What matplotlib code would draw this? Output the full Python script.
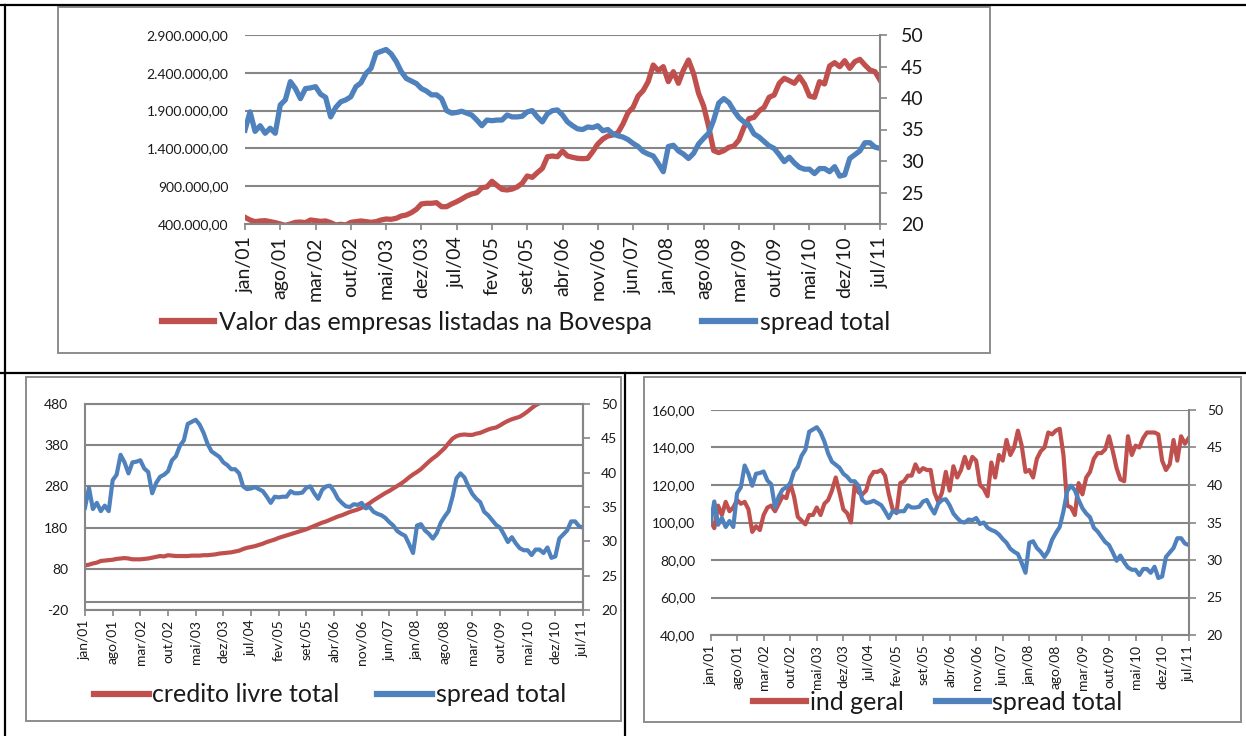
import matplotlib
matplotlib.use("Agg")
import matplotlib.pyplot as plt
from matplotlib.lines import Line2D
from matplotlib.patches import Rectangle
from matplotlib.ticker import FuncFormatter, FixedLocator
import numpy as np

plt.rcParams['font.family'] = ['Lato', 'DejaVu Sans']
plt.rcParams['axes.unicode_minus'] = False

# ---------------- data ----------------
tick_labels = ["jan/01", "ago/01", "mar/02", "out/02", "mai/03", "dez/03", "jul/04",
               "fev/05", "set/05", "abr/06", "nov/06", "jun/07", "jan/08", "ago/08",
               "mar/09", "out/09", "mai/10", "dez/10", "jul/11"]

spread_total = [34.9, 37.8, 34.7, 35.6, 34.4, 35.2, 34.4, 38.9, 39.7, 42.6,
                41.5, 39.9, 41.5, 41.6, 41.8, 40.6, 40.1, 37.0, 38.5, 39.4,
                39.7, 40.2, 41.8, 42.4, 43.9, 44.7, 47.1, 47.4, 47.7, 47.0,
                45.8, 44.2, 43.1, 42.7, 42.3, 41.5, 41.1, 40.5, 40.5, 39.9,
                38.0, 37.6, 37.7, 37.9, 37.6, 37.3, 36.5, 35.6, 36.5, 36.4,
                36.5, 36.5, 37.3, 37.0, 37.0, 37.1, 37.8, 38.0, 37.0, 36.2,
                37.5, 38.0, 38.1, 37.3, 36.2, 35.6, 35.1, 35.0, 35.4, 35.3,
                35.6, 34.8, 35.0, 34.3, 34.0, 33.8, 33.4, 32.8, 32.3, 31.5,
                31.1, 30.8, 29.6, 28.3, 32.3, 32.5, 31.6, 31.1, 30.4, 31.2,
                32.7, 33.6, 34.4, 36.5, 39.2, 39.9, 39.3, 38.0, 36.9, 36.2,
                35.7, 34.3, 33.8, 33.1, 32.4, 32.0, 31.0, 29.9, 30.6, 29.7,
                29.0, 28.7, 28.7, 28.0, 28.8, 28.8, 28.3, 29.1, 27.6, 27.8,
                30.4, 31.0, 31.6, 32.9, 32.9, 32.2, 32.0]

valor_bovespa = [488, 453, 431, 440, 444, 431, 418, 400, 382, 400,
                 422, 426, 418, 453, 444, 435, 440, 418, 387, 396,
                 387, 422, 431, 440, 431, 422, 431, 453, 466, 462,
                 475, 506, 519, 550, 594, 665, 674, 674, 682, 629,
                 629, 665, 695, 731, 770, 797, 814, 880, 890, 965,
                 910, 858, 850, 862, 890, 938, 1035, 1017, 1079, 1136,
                 1290, 1299, 1290, 1365, 1299, 1282, 1268, 1264, 1268, 1357,
                 1458, 1524, 1564, 1577, 1608, 1723, 1873, 1943, 2093, 2164,
                 2283, 2503, 2428, 2481, 2283, 2415, 2261, 2437, 2569, 2393,
                 2128, 1961, 1687, 1370, 1344, 1370, 1414, 1432, 1511, 1678,
                 1793, 1811, 1895, 1943, 2076, 2106, 2261, 2327, 2296, 2261,
                 2349, 2252, 2093, 2076, 2283, 2252, 2490, 2534, 2481, 2560,
                 2459, 2547, 2578, 2503, 2437, 2415, 2305]
valor_bovespa = [v * 1000 for v in valor_bovespa]

credito_livre = [88, 90, 93, 95, 99, 100, 101, 102, 104, 105,
                 106, 105, 103, 103, 103, 104, 105, 107, 109, 111,
                 110, 113, 112, 111, 111, 111, 111, 112, 112, 112,
                 113, 113, 114, 115, 117, 118, 119, 120, 122, 124,
                 128, 131, 133, 135, 138, 141, 145, 148, 151, 155,
                 158, 161, 164, 167, 170, 173, 176, 180, 184, 188,
                 192, 195, 199, 203, 207, 210, 214, 218, 221, 224,
                 228, 233, 239, 246, 252, 258, 264, 269, 275, 281,
                 287, 294, 302, 309, 315, 322, 331, 340, 348, 355,
                 364, 373, 385, 396, 402, 405, 406, 405, 405, 408,
                 410, 414, 418, 421, 423, 428, 434, 439, 443, 446,
                 449, 455, 462, 470, 477, 482, 489, 495, 500, 505,
                 510, 516, 521, 526, 531, 536, 541]

ind_geral = [101, 97, 109, 104, 111, 106, 108, 112, 110, 111,
             107, 95, 98, 96, 104, 108, 109, 106, 110, 114,
             113, 121, 114, 103, 101, 99, 104, 104, 108, 104,
             110, 112, 117, 124, 116, 107, 105, 100, 120, 116,
             115, 117, 124, 127, 127, 128, 125, 115, 107, 105,
             121, 122, 125, 125, 131, 127, 129, 128, 128, 116,
             111, 116, 127, 117, 130, 124, 128, 135, 129, 135,
             133, 120, 118, 114, 132, 124, 136, 133, 144, 136,
             140, 149, 141, 127, 128, 124, 134, 138, 140, 148,
             147, 149, 150, 136, 109, 108, 104, 121, 115, 124,
             127, 134, 137, 137, 139, 146, 138, 129, 123, 122,
             146, 136, 141, 140, 145, 148, 148, 148, 147, 133,
             128, 131, 144, 133, 146, 142, 145]

# ---------------- style ----------------
RED = '#C0504D'
BLUE = '#4F81BD'
GRID = '#868686'
BOXC = '#8C8C8C'
TXT = '#1a1a1a'
W, H = 1246, 736

fig = plt.figure(figsize=(W / 100, H / 100), dpi=100)


def rect(x0, y0, x1, y1):
    return [x0 / W, 1 - y1 / H, (x1 - x0) / W, (y1 - y0) / H]


def fx(x):
    return x / W


def fy(y):
    return 1 - y / H


# outer table borders (black)
for xs, ys in [((0, W), (5, 5)), ((5, 5), (5, H)), ((0, W), (373, 373)), ((625, 625), (373, H))]:
    fig.add_artist(Line2D([fx(xs[0]), fx(xs[1])], [fy(ys[0]), fy(ys[1])],
                          transform=fig.transFigure, color='black', lw=1.6))

# gray chart boxes
for (x0, y0, x1, y1) in [(58, 7, 990, 353), (26, 377, 621, 721), (644, 377, 1241, 722)]:
    fig.add_artist(Rectangle((fx(x0), fy(y1)), fx(x1) - fx(x0), fy(y0) - fy(y1),
                             transform=fig.transFigure, fill=False, edgecolor=BOXC, lw=1.4))

x = np.arange(len(spread_total))
tick_pos = list(range(0, len(spread_total), 7))


def fmt_br(decimals):
    def f(v, pos):
        s = f"{v:,.{decimals}f}"
        return s.replace(',', 'X').replace('.', ',').replace('X', '.')
    return FuncFormatter(f)


def style_common(ax, axr, xfs, left_fs, right_fs, lpad, rpad, xpad):
    ax.set_xlim(0, len(spread_total) - 1)
    ax.xaxis.set_major_locator(FixedLocator(tick_pos))
    ax.set_xticklabels(tick_labels, rotation=90, fontsize=xfs, color=TXT)
    ax.tick_params(axis='x', direction='out', length=4, width=1.2, color=GRID, pad=xpad)
    ax.tick_params(axis='y', length=0, labelsize=left_fs, labelcolor=TXT, pad=lpad)
    ax.yaxis.grid(True, color=GRID, lw=1.5)
    ax.set_axisbelow(True)
    for s in ['top', 'left', 'right']:
        ax.spines[s].set_visible(False)
    ax.spines['bottom'].set_color(GRID)
    ax.spines['bottom'].set_linewidth(1.5)
    axr.set_ylim(20, 50)
    axr.set_yticks([20, 25, 30, 35, 40, 45, 50])
    axr.tick_params(axis='y', direction='out', length=5, width=1.2, color=GRID,
                    labelsize=right_fs, labelcolor=TXT, pad=rpad)
    for s in ['top', 'left', 'bottom']:
        axr.spines[s].set_visible(False)
    axr.spines['right'].set_color(GRID)
    axr.spines['right'].set_linewidth(1.5)


# ---------------- top chart ----------------
ax1 = fig.add_axes(rect(245, 35, 880, 224))
ax1r = ax1.twinx()
ax1.plot(x, valor_bovespa, color=RED, lw=3.8, solid_joinstyle='round')
ax1r.plot(x, spread_total, color=BLUE, lw=3.8, solid_joinstyle='round')
ax1.set_ylim(400000, 2900000)
ax1.set_yticks(np.arange(400000, 2900001, 500000))
ax1.yaxis.set_major_formatter(fmt_br(2))
style_common(ax1, ax1r, 14, 10, 14, 12, 10, 5)
fig.legend(handles=[Line2D([], [], color=RED, lw=4.5), Line2D([], [], color=BLUE, lw=4.5)],
           labels=['Valor das empresas listadas na Bovespa', 'spread total'],
           loc='center', bbox_to_anchor=(fx(526), fy(322)), ncol=2, frameon=False,
           fontsize=18, handlelength=2.1, handletextpad=0.2, columnspacing=2.0,
           borderpad=0, labelcolor=TXT)

# ---------------- bottom-left chart ----------------
ax2 = fig.add_axes(rect(85, 404, 583, 610))
ax2r = ax2.twinx()
ax2.plot(x, credito_livre, color=RED, lw=3.0, solid_joinstyle='round')
ax2r.plot(x, spread_total, color=BLUE, lw=3.0, solid_joinstyle='round')
ax2.set_ylim(-20, 480)
ax2.set_yticks(np.arange(-20, 481, 100))
style_common(ax2, ax2r, 10, 10, 10, 12, 8, 3)
ax2.axhline(0, color=GRID, lw=1.5, zorder=1)
for s in ['top', 'left', 'right']:
    ax2.spines[s].set_visible(True)
    ax2.spines[s].set_color(GRID)
    ax2.spines[s].set_linewidth(1.5)
fig.legend(handles=[Line2D([], [], color=RED, lw=4.5), Line2D([], [], color=BLUE, lw=4.5)],
           labels=['credito livre total', 'spread total'],
           loc='center', bbox_to_anchor=(fx(330), fy(695)), ncol=2, frameon=False,
           fontsize=18, handlelength=2.2, handletextpad=0.15, columnspacing=1.5,
           borderpad=0, labelcolor=TXT)

# ---------------- bottom-right chart ----------------
ax3 = fig.add_axes(rect(710.5, 410, 1188.7, 635))
ax3r = ax3.twinx()
ax3.plot(x, ind_geral, color=RED, lw=3.0, solid_joinstyle='round')
ax3r.plot(x, spread_total, color=BLUE, lw=3.0, solid_joinstyle='round')
ax3.set_ylim(40, 160)
ax3.set_yticks(np.arange(40, 161, 20))
ax3.yaxis.set_major_formatter(fmt_br(2))
style_common(ax3, ax3r, 10, 10, 10, 11, 8, 3)
fig.legend(handles=[Line2D([], [], color=RED, lw=4.5), Line2D([], [], color=BLUE, lw=4.5)],
           labels=['ind geral', 'spread total'],
           loc='center', bbox_to_anchor=(fx(938), fy(702)), ncol=2, frameon=False,
           fontsize=18, handlelength=2.1, handletextpad=0.15, columnspacing=1.3,
           borderpad=0, labelcolor=TXT)

fig.savefig('out.png', dpi=100)
